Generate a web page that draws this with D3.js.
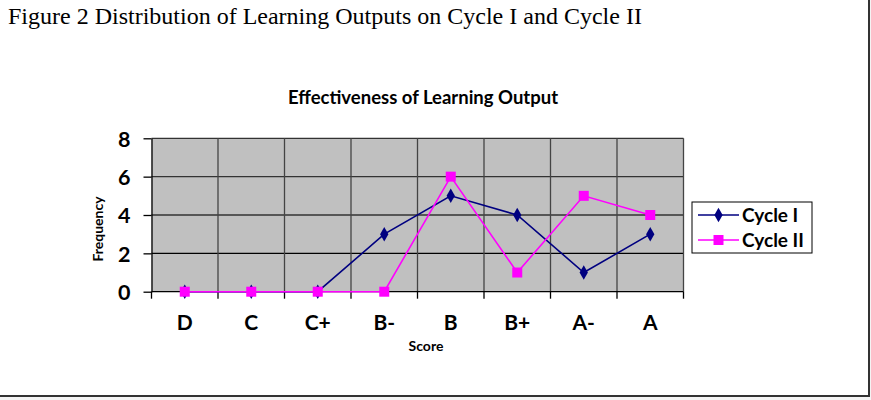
<!DOCTYPE html>
<meta charset="utf-8">
<title>Effectiveness of Learning Output</title>
<style>
  body { margin: 0; background: #f4f4f4; }
  svg { display: block; }
  .lab { font-family: Lato, "Open Sans", sans-serif; font-weight: bold; fill: #000; }
</style>
<body>
<svg id="chart" width="871" height="400"></svg>
<script src="https://cdn.jsdelivr.net/npm/d3@7"></script>
<script>

var scores = ["D", "C", "C+", "B-", "B", "B+", "A-", "A"];
var cycle1 = [0, 0, 0, 3, 5, 4, 1, 3];
var cycle2 = [0, 0, 0, 0, 6, 1, 5, 4];
var yTicks = [0, 2, 4, 6, 8];

var svg = d3.select("#chart");

// page background with the frame on right and bottom
svg.append("rect")
    .attr("x", 0).attr("y", 0)
    .attr("width", 869).attr("height", 396)
    .attr("fill", "#fff");
svg.append("line")
    .attr("x1", 869).attr("x2", 869).attr("y1", 0).attr("y2", 397)
    .attr("stroke", "#333").attr("stroke-width", 2);
svg.append("line")
    .attr("x1", 0).attr("x2", 870).attr("y1", 396).attr("y2", 396)
    .attr("stroke", "#333").attr("stroke-width", 2);

svg.append("text")
    .attr("x", 8).attr("y", 24)
    .style("font-family", "'Liberation Serif', 'Times New Roman', serif")
    .style("font-size", "24px")
    .text("Figure 2 Distribution of Learning Outputs on Cycle I and Cycle II");

var pLeft = 151.5, pRight = 683.5, pTop = 138.3, pBottom = 291.7;

var x = d3.scaleBand().domain(scores).range([pLeft, pRight]);
var y = d3.scaleLinear().domain([0, 8]).range([pBottom, pTop]);

// plot area
svg.append("rect")
    .attr("x", pLeft).attr("y", pTop)
    .attr("width", pRight - pLeft).attr("height", pBottom - pTop)
    .attr("fill", "#c0c0c0");

// horizontal gridlines
svg.append("g").selectAll("line")
  .data(yTicks.slice(1))
  .enter().append("line")
    .attr("x1", pLeft).attr("x2", pRight)
    .attr("y1", function(d) { return y(d); })
    .attr("y2", function(d) { return y(d); })
    .attr("stroke", function(d) { return d == 2 ? "#000" : "#333"; })
    .attr("stroke-width", 1.3);

// vertical gridlines at category boundaries
svg.append("g").selectAll("line")
  .data(d3.range(1, scores.length + 1))
  .enter().append("line")
    .attr("x1", function(d) { return pLeft + x.step() * d; })
    .attr("x2", function(d) { return pLeft + x.step() * d; })
    .attr("y1", pTop).attr("y2", pBottom)
    .attr("stroke", "#444").attr("stroke-width", 1.3);

// y axis
var yAxis = svg.append("g")
    .attr("transform", "translate(" + pLeft + ",0)")
    .call(d3.axisLeft(y).tickValues(yTicks).tickSize(8).tickPadding(13).tickSizeOuter(0));
yAxis.select(".domain").attr("stroke", "#000").attr("stroke-width", 1.3);
yAxis.selectAll(".tick line").attr("stroke", "#000").attr("stroke-width", 1.3);
yAxis.selectAll(".tick text")
    .attr("class", "lab")
    .style("font-size", "21.5px")
    .attr("dy", "0.36em");

// x axis, ticks at category boundaries
var xb = svg.append("g").attr("transform", "translate(0," + pBottom + ")");
xb.append("line")
    .attr("x1", pLeft).attr("x2", pRight)
    .attr("stroke", "#000").attr("stroke-width", 1.3);
xb.selectAll(".bt")
  .data(d3.range(scores.length + 1))
  .enter().append("line")
    .attr("class", "bt")
    .attr("x1", function(d) { return pLeft + d * x.step(); })
    .attr("x2", function(d) { return pLeft + d * x.step(); })
    .attr("y1", 0).attr("y2", 7)
    .attr("stroke", "#000").attr("stroke-width", 1.3);
xb.selectAll(".xl")
  .data(scores)
  .enter().append("text")
    .attr("class", "lab")
    .attr("x", function(d) { return x(d) + x.bandwidth() / 2; })
    .attr("y", 38.5)
    .attr("text-anchor", "middle")
    .style("font-size", "21px")
    .text(function(d) { return d; });

svg.append("text")
    .attr("class", "lab")
    .attr("x", 423).attr("y", 104)
    .attr("text-anchor", "middle")
    .style("font-size", "18.5px")
    .text("Effectiveness of Learning Output");

svg.append("text")
    .attr("class", "lab")
    .attr("x", 426).attr("y", 351)
    .attr("text-anchor", "middle")
    .style("font-size", "14px")
    .text("Score");

svg.append("text")
    .attr("class", "lab")
    .attr("transform", "translate(103,229) rotate(-90)")
    .attr("text-anchor", "middle")
    .style("font-size", "14px")
    .text("Frequency");

// series
var series = [
  { name: "Cycle I", values: cycle1, color: "#000080", shape: d3.symbolDiamond, size: 60 },
  { name: "Cycle II", values: cycle2, color: "#ff00ff", shape: d3.symbolSquare, size: 100 }
];

var line = d3.line()
    .x(function(d, i) { return x(scores[i]) + x.bandwidth() / 2; })
    .y(function(d) { return y(d); });

series.forEach(function(s) {
  svg.append("path")
      .datum(s.values)
      .attr("d", line)
      .attr("fill", "none")
      .attr("stroke", s.color)
      .attr("stroke-width", 1.6);
  svg.append("g").selectAll("path")
    .data(s.values)
    .enter().append("path")
      .attr("transform", function(d, i) {
        return "translate(" + (x(scores[i]) + x.bandwidth() / 2) + "," + y(d) + ")";
      })
      .attr("d", d3.symbol().type(s.shape).size(s.size))
      .attr("fill", s.color);
});

// legend
var lg = svg.append("g").attr("transform", "translate(692,202)");
lg.append("rect")
    .attr("width", 120).attr("height", 51)
    .attr("fill", "#fff").attr("stroke", "#000").attr("stroke-width", 1);
series.forEach(function(s, i) {
  var cy = 13 + i * 25;
  lg.append("line")
      .attr("x1", 6).attr("x2", 47).attr("y1", cy).attr("y2", cy)
      .attr("stroke", s.color).attr("stroke-width", 1.6);
  lg.append("path")
      .attr("transform", "translate(26.5," + cy + ")")
      .attr("d", d3.symbol().type(s.shape).size(s.size))
      .attr("fill", s.color);
  lg.append("text")
      .attr("class", "lab")
      .attr("x", 50).attr("y", cy)
      .attr("dy", "0.35em")
      .style("font-size", "19px")
      .text(s.name);
});

</script>
</body>
